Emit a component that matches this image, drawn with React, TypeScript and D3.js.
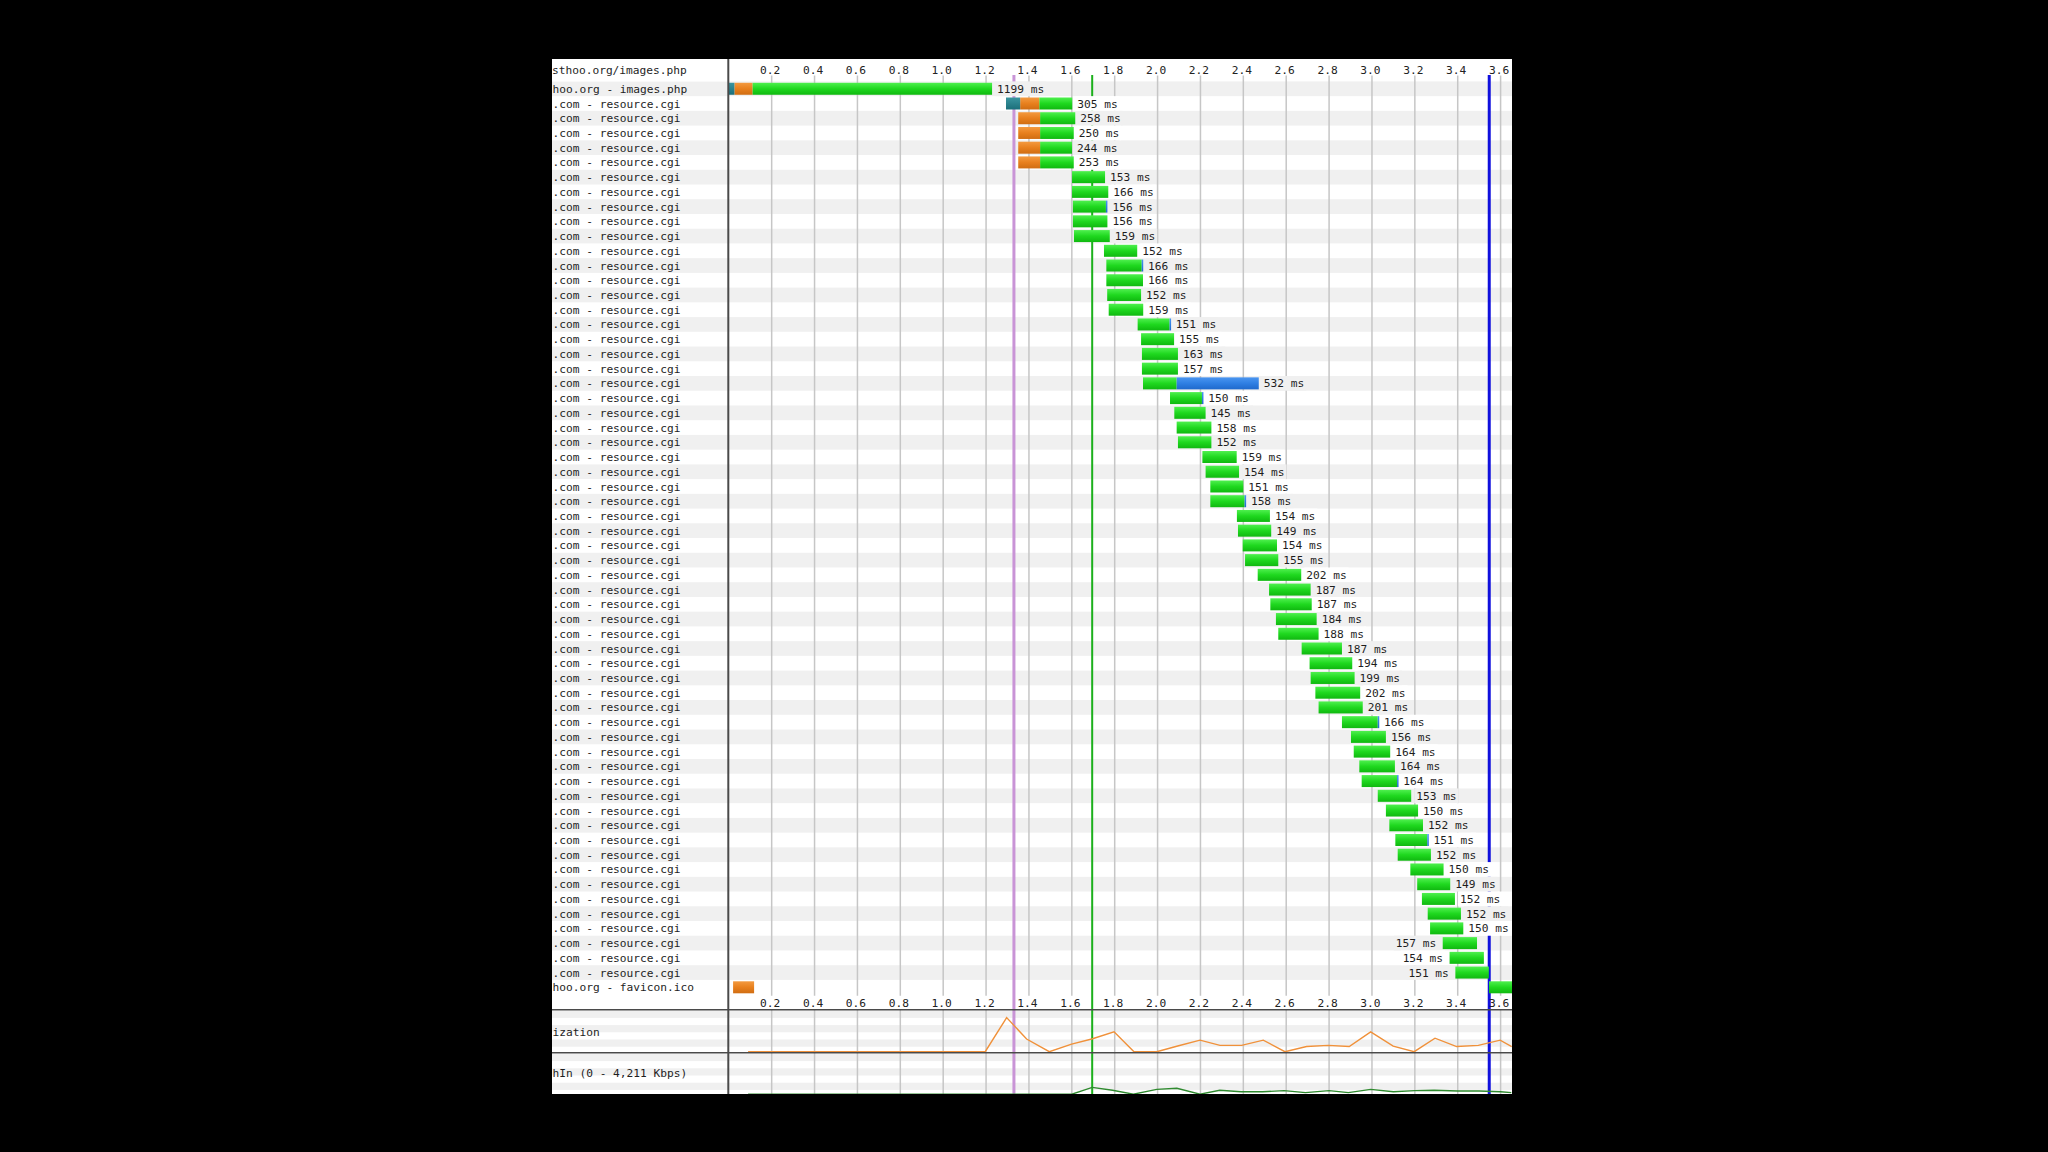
import React from 'react';
import * as d3 from 'd3';

// request rows (label column text is cropped on the left in the source)
const rowNames = [
  'hoo.org - images.php',
  ...Array.from({ length: 60 }, () => '.com - resource.cgi'),
  'hoo.org - favicon.ico',
];

// start / end of each request in seconds, label in ms
const startTimes = [
  0, 1.293, 1.35, 1.35, 1.35, 1.35, 1.601, 1.601, 1.605, 1.605,
  1.61, 1.75, 1.761, 1.761, 1.765, 1.772, 1.907, 1.923, 1.927, 1.927,
  1.932, 2.058, 2.078, 2.089, 2.095, 2.209, 2.224, 2.246, 2.246, 2.37,
  2.375, 2.397, 2.408, 2.467, 2.52, 2.526, 2.552, 2.563, 2.672, 2.709,
  2.714, 2.736, 2.751, 2.86, 2.902, 2.915, 2.941, 2.952, 3.027, 3.065,
  3.081, 3.109, 3.12, 3.179, 3.211, 3.233, 3.26, 3.271, 3.33, 3.362,
  3.389, 3.546,
];
const endTimes = [
  1.228, 1.602, 1.616, 1.609, 1.601, 1.609, 1.755, 1.77, 1.766, 1.766,
  1.777, 1.905, 1.932, 1.932, 1.923, 1.933, 2.062, 2.077, 2.095, 2.095,
  2.472, 2.213, 2.224, 2.251, 2.251, 2.369, 2.38, 2.4, 2.412, 2.524,
  2.53, 2.557, 2.563, 2.67, 2.714, 2.719, 2.742, 2.751, 2.86, 2.908,
  2.919, 2.945, 2.957, 3.033, 3.065, 3.085, 3.107, 3.123, 3.183, 3.215,
  3.238, 3.264, 3.275, 3.334, 3.365, 3.387, 3.415, 3.426, 3.49, 3.522,
  3.545, 3.7,
];
const durationsMs = [
  1199, 305, 258, 250, 244, 253, 153, 166, 156, 156,
  159, 152, 166, 166, 152, 159, 151, 155, 163, 157,
  532, 150, 145, 158, 152, 159, 154, 151, 158, 154,
  149, 154, 155, 202, 187, 187, 184, 188, 187, 194,
  199, 202, 201, 166, 156, 164, 164, 164, 153, 150,
  152, 151, 152, 150, 149, 152, 152, 150, 157, 154,
  151, null,
];

// [row, from, to]
const dnsSegs: [number, number, number][] = [[0, 0, 0.026], [1, 1.293, 1.359]];
const connectSegs: [number, number, number][] = [
  [0, 0.026, 0.11], [1, 1.359, 1.448], [2, 1.35, 1.452], [3, 1.35, 1.452],
  [4, 1.35, 1.452], [5, 1.35, 1.452], [61, 0.02, 0.118],
];
const downloadSegs: [number, number, number][] = [
  [8, 1.759, 1.766], [12, 1.926, 1.932], [16, 2.056, 2.062], [20, 2.089, 2.472],
  [21, 2.207, 2.213], [28, 2.406, 2.412], [43, 3.027, 3.033], [47, 3.117, 3.123],
  [51, 3.258, 3.264],
];

const ticks = [0.2, 0.4, 0.6, 0.8, 1.0, 1.2, 1.4, 1.6, 1.8, 2.0, 2.2, 2.4, 2.6, 2.8, 3.0, 3.2, 3.4, 3.6];

// page events (s)
const startRenderT = 1.33;
const domLoadT = 1.695;
const docCompleteT = 3.547;

// CPU utilization (%)
const cpuTimes = [0.09, 1.196, 1.296, 1.389, 1.495, 1.599, 1.693, 1.797, 1.89, 1.996, 2.098, 2.198, 2.291, 2.392, 2.493, 2.594, 2.695, 2.796, 2.894, 2.994, 3.099, 3.197, 3.294, 3.395, 3.496, 3.598, 3.652];
const cpuValues = [0, 0, 86, 32, 0, 19, 32, 50, 0, 0, 15, 29, 16, 16, 29, 0, 13, 16, 13, 50, 14, 0, 34, 13, 16, 29, 13];

// Bandwidth in (%)
const bwTimes = [0.09, 1.6, 1.695, 1.79, 1.887, 1.996, 2.09, 2.198, 2.29, 2.39, 2.49, 2.59, 2.69, 2.8, 2.89, 2.994, 3.1, 3.2, 3.29, 3.4, 3.5, 3.6, 3.65];
const bwValues = [2, 2, 19, 12, 2, 14, 17, 2, 12, 8, 8, 11, 6, 11, 6, 14, 8, 11, 12, 10, 10, 8, 6];

const FONT = '"DejaVu Sans Mono", monospace';

export default function App() {
  const left = 552, right = 1512, top = 59, bottom = 1094;
  const divX = 728.8;
  const rowTop = 81.4, rowH = 14.73;
  const axisBottomY = rowTop + rowNames.length * rowH; // bottom axis row
  const cpuTop = 1009.7, cpuBottom = 1052.7;

  const x = d3.scaleLinear().domain([0, 3.6]).range([divX, 1500.6]);
  const y = d3.scaleBand<number>().domain(d3.range(rowNames.length)).range([rowTop, axisBottomY]).padding(0);
  const cpuY = d3.scaleLinear().domain([0, 100]).range([1051.7, 1012]);
  const bwY = d3.scaleLinear().domain([0, 100]).range([1095, 1055]);

  const cpuLine = d3.line<number>().x((_, i) => x(cpuTimes[i])).y(d => cpuY(d));
  const bwLine = d3.line<number>().x((_, i) => x(bwTimes[i])).y(d => bwY(d));

  const charW = 6.74;
  const barH = 12;
  const barY = (i: number) => (y(i) as number) + (rowH - barH) / 2;

  const seg = (r: number, a: number, b: number, fill: string, key: string) => (
    <rect key={key} x={x(a)} y={barY(r)} width={Math.max(1.5, x(b) - x(a))} height={barH} fill={fill} />
  );

  const panelStripes: number[] = d3.range(cpuTop + 1, bottom, 14.4);

  return (
    <div style={{ position: 'fixed', left: 0, top: 0, width: 2048, height: 1152, background: '#000' }}>
      <svg width={2048} height={1152} style={{ display: 'block' }}>
        <defs>
          <linearGradient id="gGreen" x1="0" y1="0" x2="0" y2="1">
            <stop offset="0" stopColor="#4ef04e" />
            <stop offset="0.5" stopColor="#1fd81f" />
            <stop offset="1" stopColor="#10b810" />
          </linearGradient>
          <linearGradient id="gOrange" x1="0" y1="0" x2="0" y2="1">
            <stop offset="0" stopColor="#f39a40" />
            <stop offset="0.5" stopColor="#e8801e" />
            <stop offset="1" stopColor="#d06d12" />
          </linearGradient>
          <linearGradient id="gTeal" x1="0" y1="0" x2="0" y2="1">
            <stop offset="0" stopColor="#3a95a0" />
            <stop offset="1" stopColor="#1c6f7a" />
          </linearGradient>
          <linearGradient id="gBlue" x1="0" y1="0" x2="0" y2="1">
            <stop offset="0" stopColor="#4a95f0" />
            <stop offset="0.5" stopColor="#2f7fe3" />
            <stop offset="1" stopColor="#1f69cc" />
          </linearGradient>
          <clipPath id="chartClip">
            <rect x={left} y={top} width={right - left} height={bottom - top} />
          </clipPath>
        </defs>

        <g clipPath="url(#chartClip)">
          <rect x={left} y={top} width={right - left} height={bottom - top} fill="#fff" />

          {/* row stripes */}
          {rowNames.map((_, i) => i % 2 === 0 ? (
            <rect key={'s' + i} x={left} y={y(i)} width={right - left} height={rowH} fill="#f0f0f0" />
          ) : null)}
          {panelStripes.map((py, i) => (
            <rect key={'ps' + i} x={left} y={py} width={right - left} height={7.2} fill="#f0f0f0" />
          ))}

          {/* grid lines */}
          {ticks.map(t => (
            <g key={'g' + t}>
              <line x1={x(t)} x2={x(t)} y1={75.5} y2={axisBottomY + 1} stroke="#c6c6c6" strokeWidth={1.5} />
              <line x1={x(t)} x2={x(t)} y1={cpuTop} y2={bottom} stroke="#c6c6c6" strokeWidth={1.5} />
            </g>
          ))}

          {/* event lines */}
          <line x1={x(startRenderT)} x2={x(startRenderT)} y1={75} y2={bottom} stroke="#c994d6" strokeWidth={3} />
          <line x1={x(domLoadT)} x2={x(domLoadT)} y1={75} y2={bottom} stroke="#1cb01c" strokeWidth={2} />
          <line x1={x(docCompleteT)} x2={x(docCompleteT)} y1={75} y2={bottom} stroke="#1010dd" strokeWidth={3} />

          {/* bars */}
          {rowNames.map((_, i) => {
            const dns = dnsSegs.find(s => s[0] === i);
            const con = connectSegs.filter(s => s[0] === i);
            const dl = downloadSegs.find(s => s[0] === i);
            let gStart = startTimes[i];
            con.forEach(c => { if (c[1] <= startTimes[i] + 0.2) gStart = Math.max(gStart, c[2]); });
            if (dns && dns[2] > gStart) gStart = dns[2];
            const gEnd = dl ? dl[1] : endTimes[i];
            return (
              <g key={'b' + i}>
                {seg(i, gStart, gEnd, 'url(#gGreen)', 'gr')}
                {dl ? seg(i, dl[1], dl[2], 'url(#gBlue)', 'dl') : null}
                {con.map((c, k) => seg(i, c[1], c[2], 'url(#gOrange)', 'c' + k))}
                {dns ? seg(i, dns[1], dns[2], 'url(#gTeal)', 'dns') : null}
              </g>
            );
          })}

          {/* duration labels */}
          {rowNames.map((_, i) => {
            const ms = durationsMs[i];
            if (ms == null) return null;
            const txt = `${ms} ms`;
            const w = txt.length * charW;
            const xe = x(endTimes[i]);
            const onLeft = xe + 6 + w > right;
            const tx = onLeft ? x(startTimes[i]) - 6.5 - w : xe + 5;
            const bg = i % 2 === 0 ? '#f0f0f0' : '#fff';
            return (
              <g key={'l' + i}>
                <rect x={tx - 2} y={y(i)} width={w + 4} height={rowH} fill={bg} />
                <text x={tx} y={(y(i) as number) + rowH / 2} dy="0.36em" fontFamily={FONT} fontSize={11.2} fill="#1e1e1e">{txt}</text>
              </g>
            );
          })}

          {/* CPU and bandwidth */}
          <path d={cpuLine(cpuValues) || ''} fill="none" stroke="#f0913a" strokeWidth={1.4} />
          <path d={bwLine(bwValues) || ''} fill="none" stroke="#2f8a2f" strokeWidth={1.4} />

          {/* label column */}
          <rect x={left} y={top} width={divX - left} height={rowTop - top} fill="#fff" />
          <text x={left} y={70} dy="0.36em" fontFamily={FONT} fontSize={11.2} fill="#1e1e1e">sthoo.org/images.php</text>
          {rowNames.map((n, i) => (
            <text key={'n' + i} x={left + 0.5} y={(y(i) as number) + rowH / 2} dy="0.36em" fontFamily={FONT} fontSize={11.2} fill="#1e1e1e">{n}</text>
          ))}
          <text x={left + 0.5} y={1031.7} dy="0.36em" fontFamily={FONT} fontSize={11.2} fill="#1e1e1e">ization</text>
          <text x={left + 0.5} y={1073.3} dy="0.36em" fontFamily={FONT} fontSize={11.2} fill="#1e1e1e">hIn (0 - 4,211 Kbps)</text>

          {/* axis tick labels */}
          {ticks.map(t => (
            <g key={'t' + t}>
              <text x={x(t) - 1.5} y={70} dy="0.36em" textAnchor="middle" fontFamily={FONT} fontSize={11.2} fill="#222">{d3.format('.1f')(t)}</text>
              <text x={x(t) - 1.5} y={1002.7} dy="0.36em" textAnchor="middle" fontFamily={FONT} fontSize={11.2} fill="#222">{d3.format('.1f')(t)}</text>
            </g>
          ))}

          {/* dividers */}
          <line x1={divX - 0.5} x2={divX - 0.5} y1={top} y2={bottom} stroke="#4a4a4a" strokeWidth={2} />
          <line x1={left} x2={right} y1={cpuTop} y2={cpuTop} stroke="#4a4a4a" strokeWidth={1.5} />
          <line x1={left} x2={right} y1={cpuBottom} y2={cpuBottom} stroke="#4a4a4a" strokeWidth={1.5} />
        </g>
      </svg>
    </div>
  );
}
